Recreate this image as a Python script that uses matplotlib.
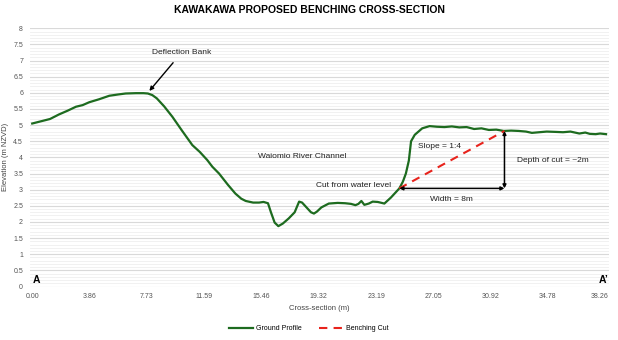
import matplotlib.pyplot as plt
from matplotlib.ticker import MultipleLocator

plt.rcParams['font.family'] = ['Liberation Sans', 'DejaVu Sans']

# ground profile (distance m, elevation m NZVD)
dist = [0.0, 0.6, 1.2, 1.8, 2.4, 2.95, 3.4, 3.85, 4.5, 5.2, 5.8, 6.3, 7.0, 7.5, 7.8,
        8.1, 8.4, 8.9, 9.45, 10.1, 10.8, 11.3, 11.8, 12.15, 12.6, 13.2, 13.7, 14.1,
        14.4, 14.9, 15.3, 15.6, 15.9, 16.1, 16.35, 16.6, 16.9, 17.3, 17.7, 18.0, 18.2,
        18.5, 18.8, 19.0, 19.2, 19.5, 20.0, 20.6, 21.1, 21.5, 21.8, 22.0, 22.2, 22.4,
        22.7, 22.96, 23.3, 23.75, 24.2, 24.76, 25.0, 25.2, 25.4, 25.55, 25.8, 26.3,
        26.8, 27.3, 27.8, 28.3, 28.8, 29.3, 29.8, 30.3, 30.8, 31.3, 31.8, 32.3, 32.8,
        33.3, 33.7, 34.2, 34.7, 35.3, 35.8, 36.3, 36.9, 37.3, 37.6, 38.0, 38.3, 38.7]
elev = [5.05, 5.12, 5.19, 5.33, 5.45, 5.57, 5.62, 5.71, 5.80, 5.91, 5.95, 5.98, 5.99,
        5.99, 5.98, 5.93, 5.83, 5.58, 5.26, 4.83, 4.38, 4.17, 3.92, 3.71, 3.50, 3.15,
        2.88, 2.72, 2.65, 2.60, 2.60, 2.62, 2.58, 2.30, 1.98, 1.87, 1.95, 2.11, 2.30,
        2.63, 2.60, 2.45, 2.30, 2.26, 2.32, 2.45, 2.57, 2.59, 2.58, 2.56, 2.52, 2.56,
        2.65, 2.53, 2.57, 2.63, 2.62, 2.57, 2.76, 3.04, 3.25, 3.50, 3.90, 4.50, 4.70,
        4.90, 4.97, 4.95, 4.94, 4.96, 4.93, 4.94, 4.88, 4.90, 4.85, 4.86, 4.82, 4.83,
        4.82, 4.80, 4.76, 4.78, 4.80, 4.79, 4.78, 4.80, 4.74, 4.77, 4.73, 4.72, 4.74, 4.72]

# benching cut from water level up to the top of bank
cut_x = [24.76, 31.85]
cut_y = [3.04, 4.82]

xtick_vals = [0.00, 3.86, 7.73, 11.59, 15.46, 19.32, 23.19, 27.05, 30.92, 34.78, 38.26]
xtick_labels = ['0.00', '3.86', '7.73', '11.59', '15.46', '19.32', '23.19', '27.05',
                '30.92', '34.78', '38.26']
ytick_vals = [0, 0.5, 1, 1.5, 2, 2.5, 3, 3.5, 4, 4.5, 5, 5.5, 6, 6.5, 7, 7.5, 8]
ytick_labels = ['0', '0.5', '1', '1.5', '2', '2.5', '3', '3.5', '4', '4.5', '5',
                '5.5', '6', '6.5', '7', '7.5', '8']

fig = plt.figure(figsize=(6.18, 3.40), dpi=100)
ax = fig.add_axes([30/618, 1 - 286.5/340, 579/618, 258.2/340])

ax.plot(dist, elev, color='#1d6b1f', lw=1.6, label='Ground Profile', zorder=3)
ax.plot(cut_x, cut_y, color='#e8231c', lw=1.5, ls=(0, (4, 3)), label='Benching Cut', zorder=4)

# width and depth dimension arrows
ax.annotate('', xy=(cut_x[0], cut_y[0]), xytext=(cut_x[1], cut_y[0]),
            arrowprops=dict(arrowstyle='<|-|>', color='black', lw=1.1,
                            mutation_scale=5, shrinkA=0, shrinkB=0), zorder=5)
ax.annotate('', xy=(cut_x[1], cut_y[1]), xytext=(cut_x[1], cut_y[0]),
            arrowprops=dict(arrowstyle='<|-|>', color='black', lw=1.1,
                            mutation_scale=5, shrinkA=0, shrinkB=0), zorder=5)

ax.annotate('Deflection Bank', xy=(7.9, 6.06), xytext=(10.1, 7.26),
            fontsize=6, ha='center', va='center', color='#222222',
            arrowprops=dict(arrowstyle='-|>', color='black', lw=1.0,
                            mutation_scale=6, shrinkA=4, shrinkB=0))
ax.text(18.24, 4.04, 'Waiomio River Channel', fontsize=6, ha='center', va='center', color='#222222')
ax.text(21.66, 3.13, 'Cut from water level', fontsize=6, ha='center', va='center', color='#222222')
ax.text(27.46, 4.35, 'Slope = 1:4', fontsize=6, ha='center', va='center', color='#222222')
ax.text(28.25, 2.70, 'Width = 8m', fontsize=6, ha='center', va='center', color='#222222')
ax.text(35.09, 3.89, 'Depth of cut = ~2m', fontsize=6, ha='center', va='center', color='#222222')
ax.text(0.05, 0.2, 'A', fontsize=7.5, fontweight='bold', ha='left', va='center')
ax.text(38.85, 0.2, 'A\u2019', fontsize=7.5, fontweight='bold', ha='right', va='center')

ax.set_xlim(-0.15, 38.9)
ax.set_ylim(0, 8)
ax.set_xticks(xtick_vals)
ax.set_xticklabels(xtick_labels)
ax.set_yticks(ytick_vals)
ax.set_yticklabels(ytick_labels)
ax.yaxis.set_minor_locator(MultipleLocator(0.1))
ax.tick_params(axis='both', which='both', length=0, labelsize=5, labelcolor='#555555')
ax.tick_params(axis='y', pad=5)
ax.tick_params(axis='x', pad=5)
ax.grid(axis='y', which='major', color='#d9d9d9', lw=0.8)
ax.grid(axis='y', which='minor', color='#efefef', lw=0.6)
ax.set_axisbelow(True)
for s in ax.spines.values():
    s.set_visible(False)

ax.set_xlabel('Cross-section (m)', fontsize=5.5, color='#444444', labelpad=3)
ax.set_ylabel('Elevation (m NZVD)', fontsize=5.5, color='#444444', labelpad=3)

fig.suptitle('KAWAKAWA PROPOSED BENCHING CROSS-SECTION', fontsize=7.5, fontweight='bold',
             x=0.5, y=0.985, va='top')
fig.legend(loc='center', bbox_to_anchor=(0.5, 1 - 329/340), ncol=2, frameon=False,
           fontsize=5, handlelength=3.5, columnspacing=2.5, handletextpad=0.4)

fig.savefig('out.png', dpi=100)
